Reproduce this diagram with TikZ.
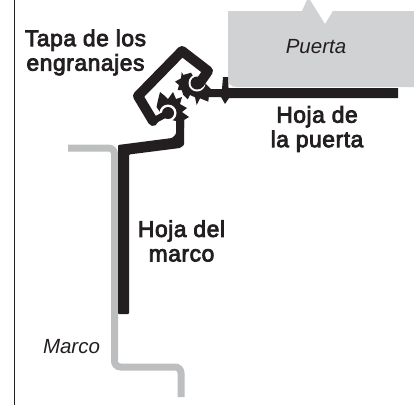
\documentclass[tikz,border=0pt]{standalone}
\usepackage{fontspec}
\setmainfont{Liberation Sans}
\newfontfamily\medfont[FakeBold=3.5,LetterSpace=2.5]{Liberation Sans}
\definecolor{doorgray}{HTML}{D1D2D4}
\definecolor{framegray}{HTML}{BCBEC0}
\definecolor{ink}{HTML}{231F20}
\tikzset{
 lbl/.style={font=\medfont\fontsize{22.8}{24.5}\selectfont,text=ink,align=center,inner sep=0pt},
 ital/.style={font=\fontsize{20.5}{24}\selectfont\itshape,text=ink,inner sep=0pt,anchor=base},
 hw/.style={fill=ink,draw=none},
}
\begin{document}
\begin{tikzpicture}[x=1pt,y=-1pt]
\useasboundingbox (0,0) rectangle (414,405);
\fill[white] (0,0) rectangle (414,405);
\draw[ink,line width=0.7pt] (14,0) -- (14,405);
% door
\fill[doorgray] (414,11) -- (333,11) -- (325,24) -- (310,0) -- (307,0) -- (302,11) -- (228,11) -- (228,78) .. controls (228,84) and (231,87) .. (237,87) -- (414,87) -- cycle;
% frame
\draw[framegray,line width=7pt,rounded corners=6pt] (68,148) -- (114.5,148) -- (114.5,367) -- (181,367) -- (181,397);
% frame leaf
\fill[hw,rounded corners=1pt] (118,145) -- (172,138) -- (176,134) -- (176,118) -- (184,118) -- (184,145) -- (180,148) -- (129,154.5) -- (129,314) -- (118,314) -- cycle;
% door leaf
\fill[hw,rounded corners=0.5pt] (398,88) -- (228.5,88) -- (228,77) -- (223,77) -- (222,89) -- (205,89) -- (205,97) -- (221,97) -- (225,104) -- (229,98) -- (398,98) -- cycle;
% upper gear
\fill[hw] (191,72.7) -- (183.3,75) -- (181.7,72) -- (181,78.3) -- (175,81.7) -- (179,85) -- (177.7,90) -- (181.7,90) -- (183.3,95) -- (187.7,99.3) -- (190,95) -- (195,97.3) -- (196.7,105) -- (200,98.3) -- (208.3,101.7) -- (209,95) -- (212,90) -- (205,83) -- (197,83) -- cycle;
% lower gear
\fill[hw] (156.5,107) -- (158,100) -- (160,92) -- (165,96) -- (168,99) -- (173,92) -- (176,99) -- (182,97) -- (180,104) -- (187,108) -- (182,112) -- (189,117) -- (184,120) -- (184,128) -- (176,128) -- (176,121) -- (172,120) -- (168,113) -- (160,112) -- cycle;
% sockets
\fill[white] (197,83) circle[radius=8.5];
\fill[white] (168,113) circle[radius=8.5];
\fill[ink] (197,83) circle[radius=6.5];
\fill[ink] (168,113) circle[radius=6];
% cover
\draw[ink,line width=10pt,line join=round,line cap=round] (153,121) -- (138,96) -- (182,51) -- (208,71) -- (199,84);
\draw[ink,line width=6.5pt,line cap=round] (153,121) -- (168,113);
% labels
\node[lbl] (tapa) at (85.5,52.5) {Tapa de los\\engranajes};
\node[lbl] (hojap) at (317,129) {Hoja de\\la puerta};
\node[lbl] (hojam) at (181.5,241) {Hoja del\\marco};
\node[ital] (puerta) at (316,53) {Puerta};
\node[ital] (marco) at (71.5,353) {Marco};
\end{tikzpicture}
\end{document}
